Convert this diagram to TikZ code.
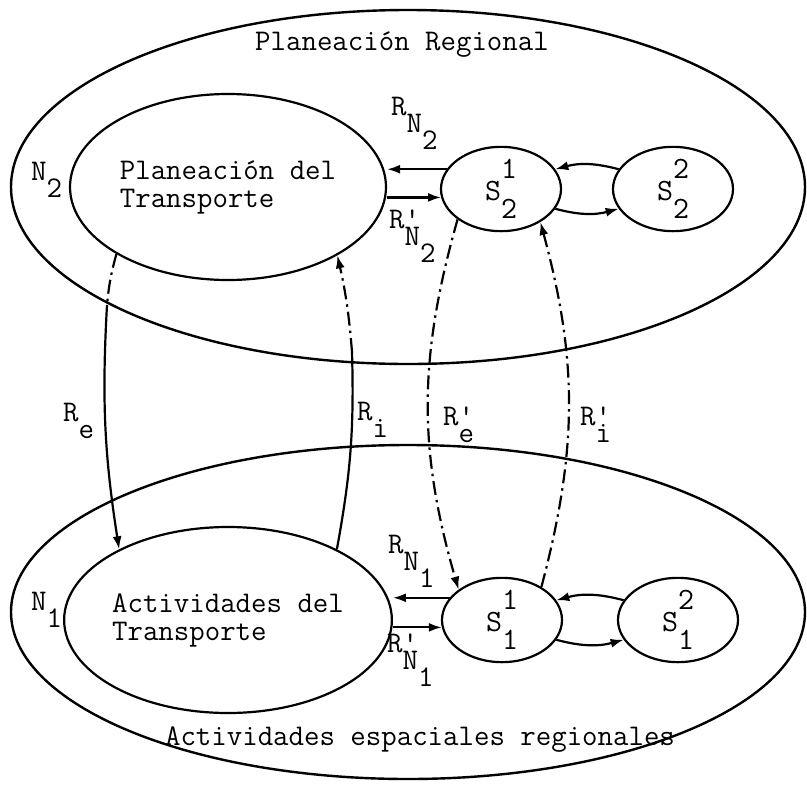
\documentclass[tikz,border=0pt]{standalone}
\usetikzlibrary{shapes.geometric,arrows.meta}
% typewriter half-line shifts
\newcommand{\lo}[1]{\raisebox{-0.58em}{#1}}
\newcommand{\hi}[1]{\raisebox{0.72em}{#1}}
\newcommand{\pr}{\rlap{\textquotesingle}}

\begin{document}
\begin{tikzpicture}[x=1pt, y=-1pt,
    region/.style={ellipse, draw=black, line width=2.4pt, minimum width=794pt, inner sep=0pt},
    activity/.style={ellipse, draw=black, line width=2.2pt, minimum width=316pt, minimum height=186pt,
                     inner sep=0pt, align=left, font=\ttfamily\fontsize{30}{28}\selectfont},
    subsys/.style={ellipse, draw=black, line width=2.2pt, minimum width=120pt, minimum height=73pt,
                   inner sep=0pt, font=\ttfamily\fontsize{31}{31}\selectfont},
    caption/.style={font=\ttfamily\fontsize{30}{30}\selectfont},
    rel/.style={inner sep=0pt, anchor=base west, font=\ttfamily\fontsize{30}{30}\selectfont},
    link/.style={line width=2.2pt},
    arrow/.style={line width=2.2pt, -{Latex[length=13pt,width=9pt]}},
    dashdot/.style={dash pattern=on 14pt off 5pt on 2.5pt off 5pt}
  ]
  \useasboundingbox (0,0) rectangle (807,788);

  % the two levels
  \node[region, minimum height=354pt] (regional) at (408,187) {};
  \node[region, minimum height=334pt] (spatial) at (408,612) {};
  \node[caption] (regtitle) at (402,45) {Planeación Regional};
  \node[caption] (spatitle) at (420,740) {Actividades espaciales regionales};
  \node[rel] (n2) at (31,180) {N\lo{2}};
  \node[rel] (n1) at (31,610) {N\lo{1}};

  % transport and the other subsystems
  \node[activity] (plan) at (228,187) {Planeación del\\Transporte};
  \node[activity] (activ) at (228,620) {Actividades del\\Transporte};
  \node[subsys] (s21) at (501,189) {S\rlap{\hi{1}}\lo{2}};
  \node[subsys] (s22) at (673,189) {S\rlap{\hi{2}}\lo{2}};
  \node[subsys] (s11) at (502,620) {S\rlap{\hi{1}}\lo{1}};
  \node[subsys] (s12) at (678,620) {S\rlap{\hi{2}}\lo{1}};

  % relations inside each level
  \draw[arrow] (s21.160) -- (s21.160 -| plan.east);
  \draw[arrow] (plan.east |- s21.188) -- (s21.188);
  \draw[arrow] (s11.157) -- (s11.157 -| activ.east);
  \draw[arrow] (activ.east |- s11.187) -- (s11.187);
  \draw[arrow] (s22.160) to[bend right=15] (s21.20);
  \draw[arrow] (s21.-20) to[bend right=15] (s22.-160);
  \draw[arrow] (s12.160) to[bend right=15] (s11.20);
  \draw[arrow] (s11.-20) to[bend right=15] (s12.-160);
  \node[rel] (rn2) at (391,115) {R\lo{N\lo{2}}};
  \node[rel] (rn2p) at (389,228) {R\pr\lo{N\lo{2}}};
  \node[rel] (rn1) at (388,553) {R\lo{N\lo{1}}};
  \node[rel] (rn1p) at (387,652) {R\pr\lo{N\lo{1}}};

  % relations between the levels
  \coordinate (re) at (107,305);
  \coordinate (ri) at (352,352);
  \draw[link, dashdot] (plan.-149) to[bend right=5] (re);
  \draw[arrow] (re) to[bend right=6] (activ.147);
  \draw[link] (activ.33) to[bend right=6] (ri);
  \draw[arrow, dashdot] (ri) to[bend right=4] (plan.-32);
  \draw[arrow, dashdot] (s21.-145) to[bend right=16] (s11.145);
  \draw[arrow, dashdot] (s11.40) to[bend right=15] (s21.-40);
  \node[rel] (re-lbl) at (63,421) {R\lo{e}};
  \node[rel] (ri-lbl) at (357,420) {R\lo{i}};
  \node[rel] (rep-lbl) at (443,425) {R\pr\lo{e}};
  \node[rel] (rip-lbl) at (580,425) {R\pr\lo{i}};
\end{tikzpicture}
\end{document}
